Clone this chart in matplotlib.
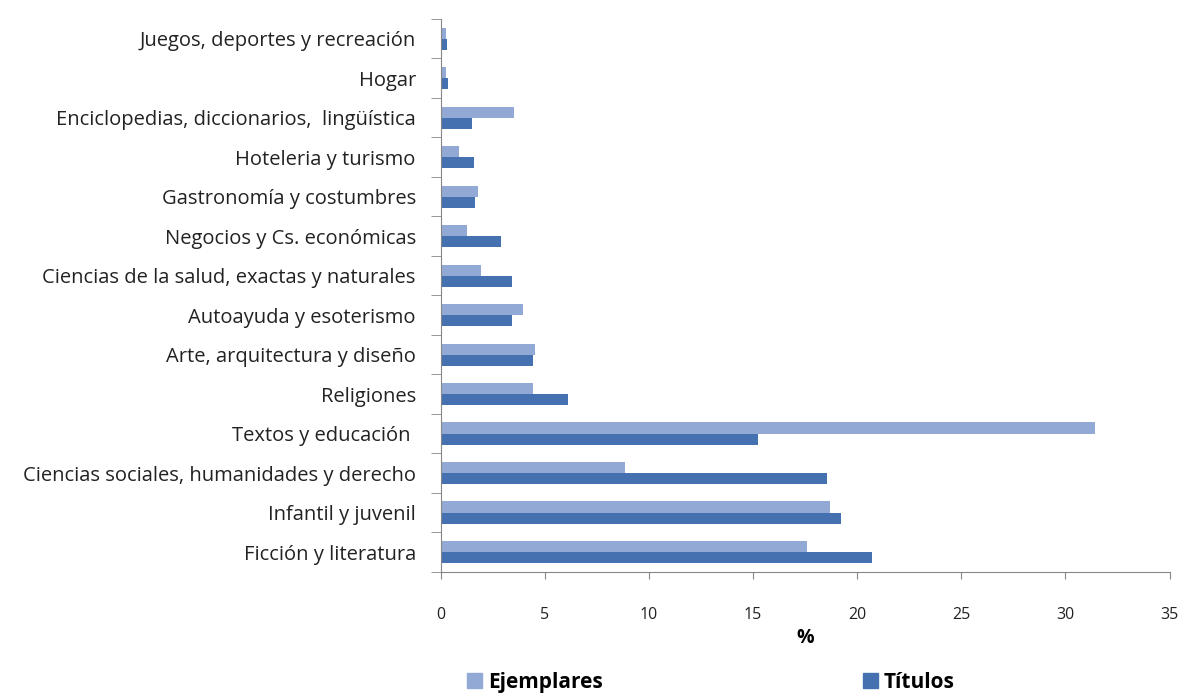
import numpy as np
import matplotlib.pyplot as plt
from matplotlib.patches import Patch

# categories, bottom to top as drawn
categorias = ['Ficción y literatura', 'Infantil y juvenil',
              'Ciencias sociales, humanidades y derecho', 'Textos y educación ',
              'Religiones', 'Arte, arquitectura y diseño', 'Autoayuda y esoterismo',
              'Ciencias de la salud, exactas y naturales', 'Negocios y Cs. económicas',
              'Gastronomía y costumbres', 'Hoteleria y turismo',
              'Enciclopedias, diccionarios,  lingüística', 'Hogar',
              'Juegos, deportes y recreación']
ejemplares = [17.6, 18.7, 8.85, 31.4, 4.45, 4.5, 3.95, 1.95, 1.25, 1.8, 0.87, 3.5, 0.25, 0.25]
titulos = [20.7, 19.2, 18.55, 15.25, 6.1, 4.45, 3.42, 3.42, 2.88, 1.65, 1.57, 1.5, 0.35, 0.28]

col_ej = '#93A9D5'
col_ti = '#4571B1'
gris = '#868686'

plt.rcParams['font.family'] = ['Open Sans', 'DejaVu Sans']

fig = plt.figure(figsize=(11.85, 6.99), dpi=100)
ax = fig.add_axes([0.372, 0.182, 0.615, 0.791])

y = np.arange(len(categorias))
h = 0.28
ax.barh(y + h/2, ejemplares, height=h, color=col_ej)
ax.barh(y - h/2, titulos, height=h, color=col_ti)

ax.set_xlim(0, 35)
ax.set_ylim(-0.5, len(categorias) - 0.5)
ax.set_xticks(range(0, 36, 5))
ax.set_yticks(y)
ax.set_yticklabels(categorias, fontsize=14.5, color='#222222')
ax.set_yticks(np.arange(-0.5, len(categorias), 1), minor=True)
ax.tick_params(axis='y', which='major', length=0, pad=18)
ax.tick_params(axis='y', which='minor', length=7, color=gris, direction='out')
ax.tick_params(axis='x', length=5, color=gris, pad=20, labelsize=11.5, labelcolor='#222222')

for s in ['top', 'right']:
    ax.spines[s].set_visible(False)
for s in ['left', 'bottom']:
    ax.spines[s].set_color(gris)

ax.set_xlabel('%', fontsize=14, fontweight='bold', labelpad=4)

handles = [Patch(color=col_ej, label='Ejemplares'), Patch(color=col_ti, label='Títulos')]
fig.legend(handles=handles, loc='lower center', bbox_to_anchor=(0.6, -0.018), ncol=2,
           frameon=False, prop={'size': 15, 'weight': 'bold'}, columnspacing=12.5,
           handlelength=0.7, handleheight=0.7, handletextpad=0.3)

fig.savefig('out.png', dpi=100)
